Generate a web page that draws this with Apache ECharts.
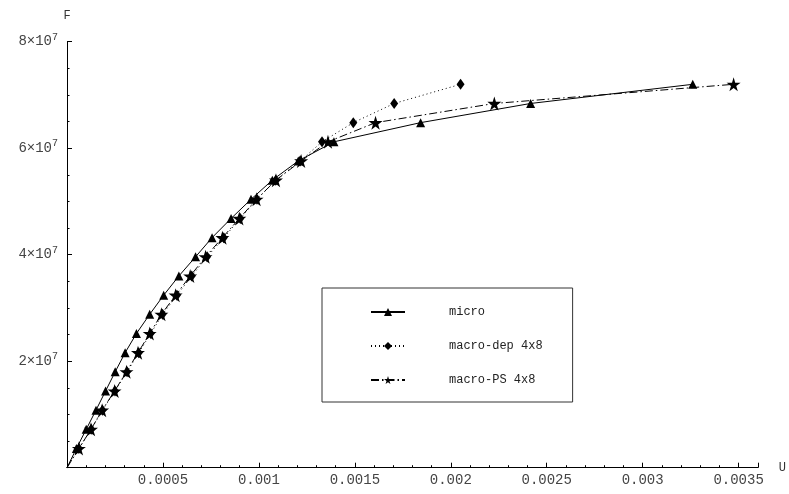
<!DOCTYPE html>
<html>
<head>
<meta charset="utf-8">
<script src="https://cdn.jsdelivr.net/npm/echarts@6/dist/echarts.min.js"></script>
<style>
  html, body { margin: 0; padding: 0; background: #fff; }
  #chart { width: 789px; height: 494px; }
</style>
</head>
<body>
<div id="chart"></div>
<script>
// load steps, shared by all three curves
var loads = [0, 3.6e6, 7.2e6, 10.8e6, 14.4e6, 18e6, 21.6e6, 25.2e6, 28.8e6, 32.4e6, 36e6,
             39.6e6, 43.2e6, 46.8e6, 50.4e6, 54e6, 57.6e6, 61.2e6, 64.8e6, 68.4e6, 72e6];
var uMicro = [0, 0.49e-4, 1.00e-4, 1.51e-4, 2.01e-4, 2.51e-4, 3.03e-4, 3.62e-4, 4.31e-4, 5.04e-4, 5.83e-4,
              6.70e-4, 7.56e-4, 8.55e-4, 9.59e-4, 1.07e-3, 1.205e-3, 1.391e-3, 1.843e-3, 2.416e-3, 3.261e-3];
var uDep   = [0, 0.62e-4, 1.26e-4, 1.85e-4, 2.50e-4, 3.13e-4, 3.74e-4, 4.36e-4, 4.98e-4, 5.73e-4, 6.50e-4,
              7.30e-4, 8.17e-4, 9.03e-4, 9.90e-4, 1.088e-3, 1.215e-3, 1.329e-3, 1.492e-3, 1.705e-3, 2.051e-3];
var uPS    = [0, 0.62e-4, 1.25e-4, 1.83e-4, 2.48e-4, 3.10e-4, 3.70e-4, 4.31e-4, 4.92e-4, 5.66e-4, 6.42e-4,
              7.22e-4, 8.10e-4, 8.98e-4, 9.88e-4, 1.089e-3, 1.22e-3, 1.360e-3, 1.608e-3, 2.227e-3, 3.474e-3];
var seriesNames = ['micro', 'macro-dep 4x8', 'macro-PS 4x8'];
var yTicks = [2e7, 4e7, 6e7, 8e7];

var mono = 'Liberation Mono';
var star = 'path://M50,0 L61,35 L98,35 L68,57 L79,91 L50,70 L21,91 L32,57 L2,35 L39,35 Z';

// no marker at the origin, the curves just start there
function pairs(u) {
    return u.map(function (v, i) {
        if (i === 0) return { value: [v, loads[i]], symbol: 'none' };
        return [v, loads[i]];
    });
}

var chart = echarts.init(document.getElementById('chart'));
var option = {
    animation: false,
    backgroundColor: '#fff',
    grid: { left: 67, right: 29, top: 41.7, bottom: 26.3 },
    legend: {
        orient: 'vertical',
        left: 322,
        top: 288,
        padding: [18, 30, 16, 48],
        itemGap: 22,
        itemWidth: 34,
        itemHeight: 10,
        borderColor: '#333',
        borderWidth: 1,
        textStyle: { fontFamily: mono, fontSize: 12, color: '#222', padding: [0, 0, 0, 39] },
        data: seriesNames
    },
    xAxis: {
        type: 'value',
        min: 0,
        max: 0.0036,
        interval: 0.0005,
        name: 'U',
        nameGap: 21,
        nameTextStyle: { fontFamily: mono, fontSize: 12, color: '#333', padding: [0, 0, 4, 0] },
        axisLine: { lineStyle: { color: '#000', width: 1 } },
        axisTick: { inside: true, length: 5, lineStyle: { color: '#000' } },
        minorTick: { show: true, splitNumber: 5, length: 2.5, lineStyle: { color: '#000' } },
        splitLine: { show: false },
        axisLabel: {
            showMaxLabel: false,
            margin: 6,
            fontFamily: mono,
            fontSize: 14,
            color: '#444',
            formatter: function (v) {
                if (v === 0) return '';
                return String(Math.round(v * 10000) / 10000);
            }
        }
    },
    yAxis: {
        type: 'value',
        min: 0,
        max: 8e7,
        interval: 2e7,
        name: 'F',
        nameGap: 20,
        nameTextStyle: { fontFamily: mono, fontSize: 12, color: '#333', align: 'center' },
        axisLine: { lineStyle: { color: '#000', width: 1 } },
        axisTick: { inside: true, length: 5, lineStyle: { color: '#000' } },
        minorTick: { show: true, splitNumber: 4, length: 2.5, lineStyle: { color: '#000' } },
        splitLine: { show: false },
        axisLabel: {
            margin: 9,
            fontFamily: mono,
            fontSize: 14,
            color: '#444',
            formatter: function (v) {
                if (yTicks.indexOf(v) < 0) return '';
                return '{a|' + (v / 1e7) + '×10}{b|7}';
            },
            rich: {
                a: { fontFamily: mono, fontSize: 14, color: '#444' },
                b: { fontFamily: mono, fontSize: 10, color: '#444', verticalAlign: 'bottom', padding: [0, 0, 9, 0] }
            }
        }
    },
    series: [
        {
            name: seriesNames[0],
            type: 'line',
            data: pairs(uMicro),
            symbol: 'triangle',
            symbolSize: 9,
            showAllSymbol: true,
            itemStyle: { color: '#000' },
            lineStyle: { color: '#000', width: 1, type: 'solid' },
            z: 3
        },
        {
            name: seriesNames[1],
            type: 'line',
            data: pairs(uDep),
            symbol: 'diamond',
            symbolSize: [8, 11],
            showAllSymbol: true,
            itemStyle: { color: '#000' },
            lineStyle: { color: '#000', width: 1, type: [1, 3] },
            z: 2
        },
        {
            name: seriesNames[2],
            type: 'line',
            data: pairs(uPS),
            symbol: star,
            symbolSize: 14,
            showAllSymbol: true,
            itemStyle: { color: '#000' },
            lineStyle: { color: '#000', width: 1, type: [8, 3, 1.5, 3] },
            z: 4
        }
    ]
};
chart.setOption(option);
</script>
</body>
</html>
